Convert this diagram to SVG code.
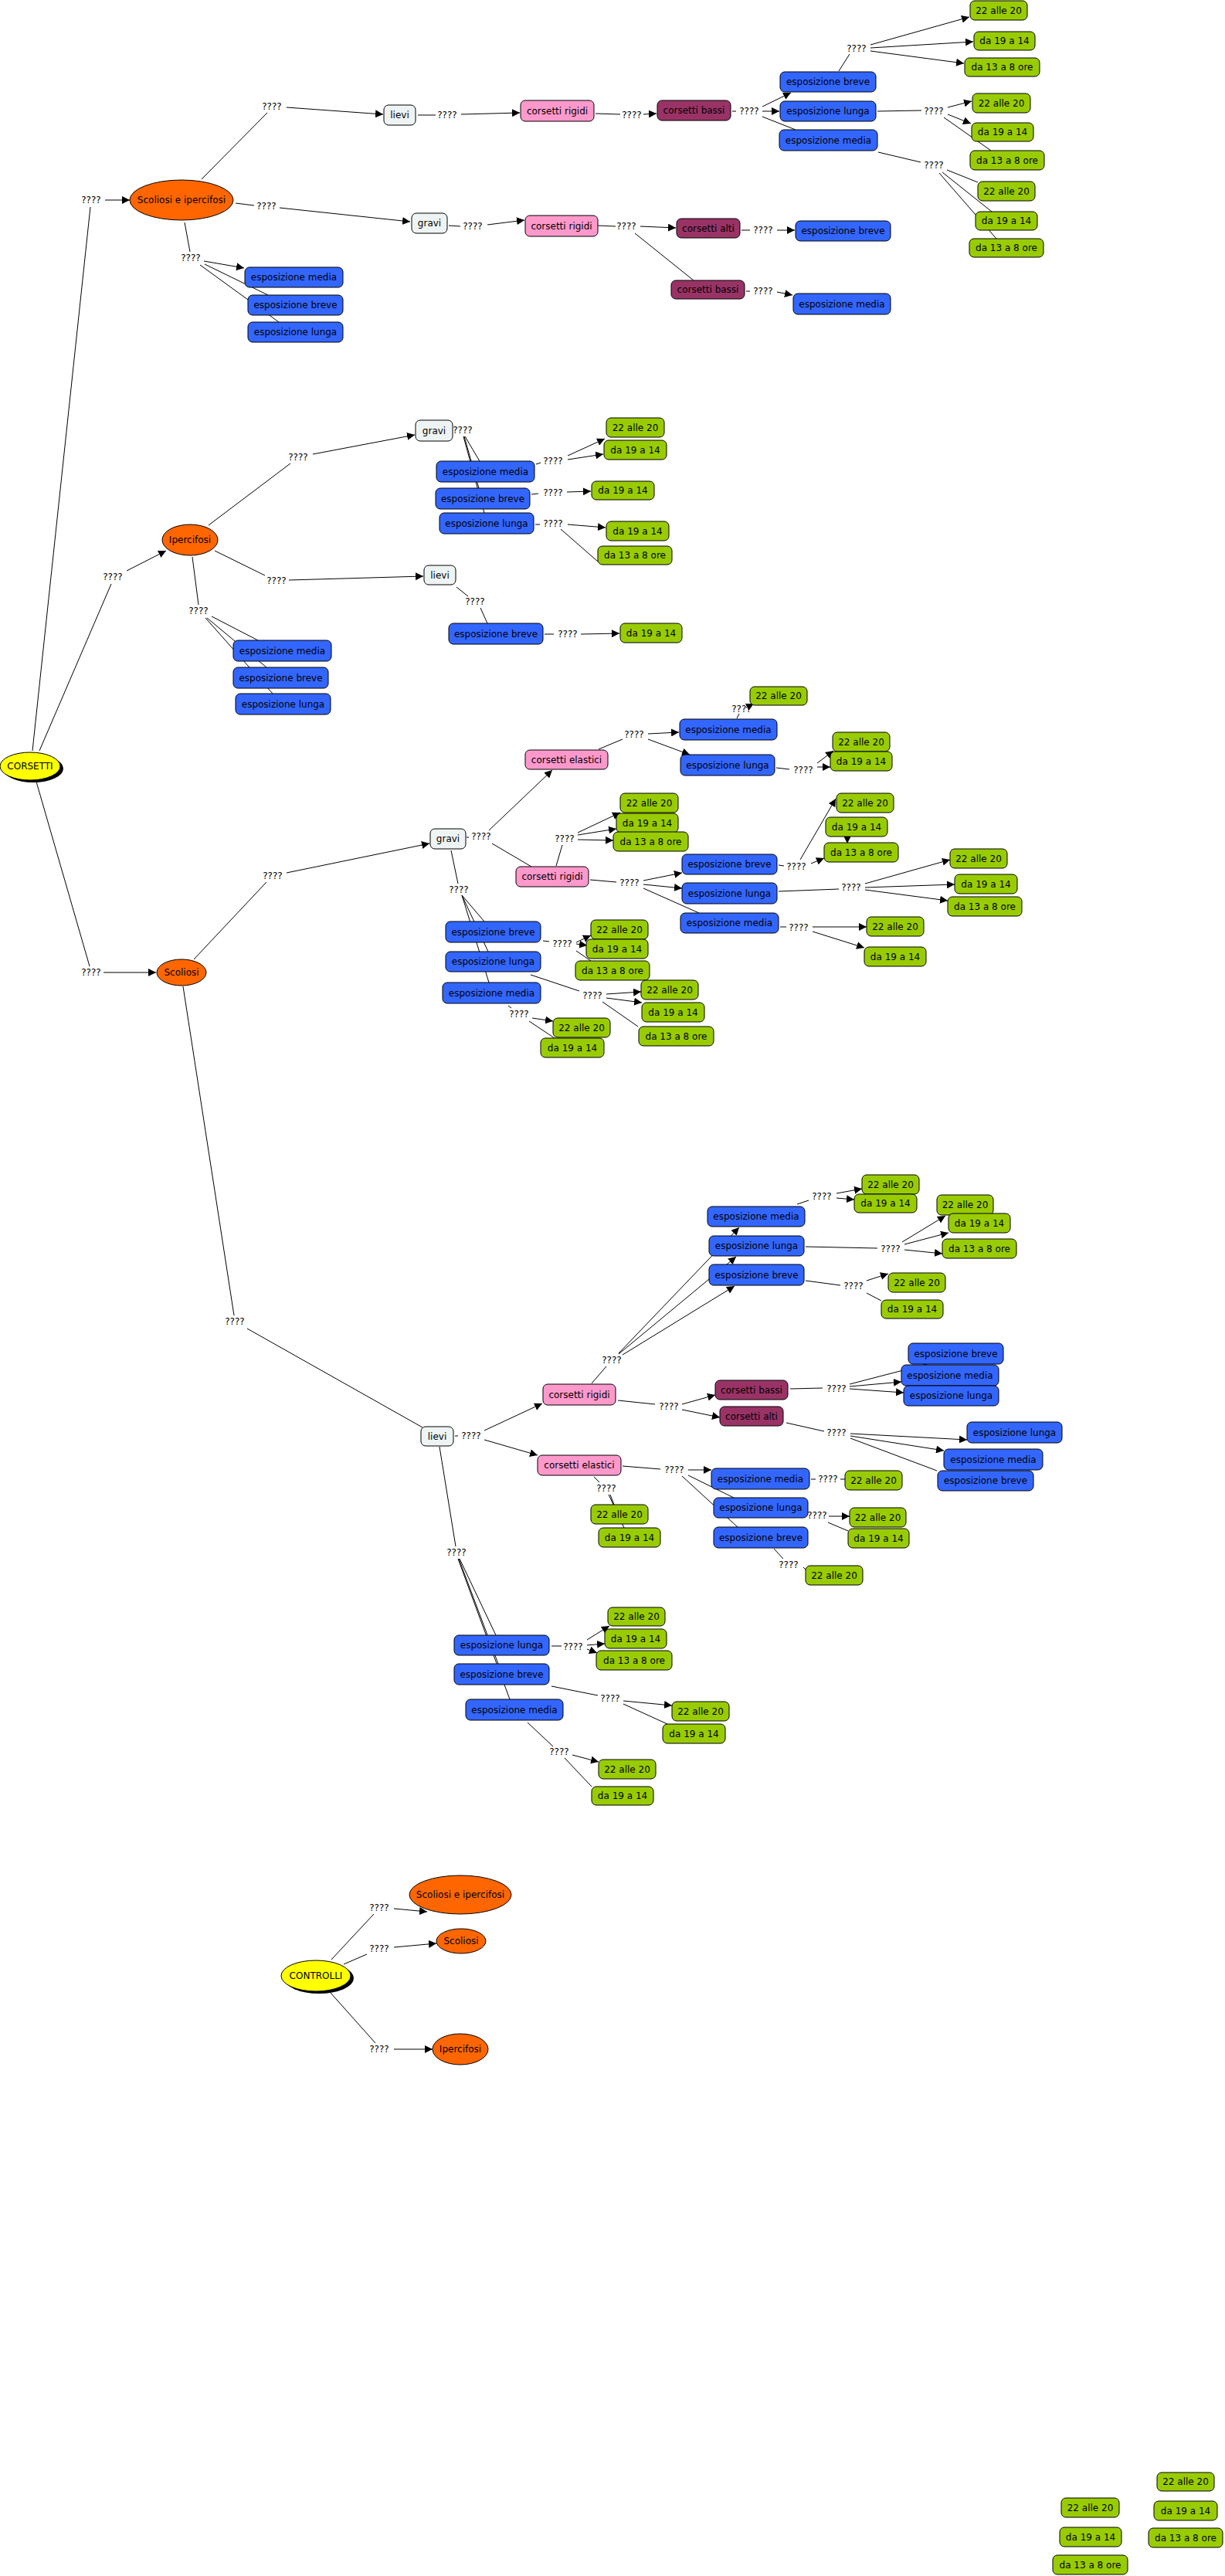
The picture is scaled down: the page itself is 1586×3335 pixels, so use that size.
<svg xmlns="http://www.w3.org/2000/svg" width="1586" height="3335" viewBox="0 0 1586 3335">
<defs>
<marker id="ah" markerWidth="10" markerHeight="10" refX="10" refY="5" orient="auto" markerUnits="userSpaceOnUse"><path d="M0,0 L10,5 L0,10 z" fill="#000"/></marker>
<style>
.c{stroke:#000;stroke-width:1;fill:none}
.a{stroke:#000;stroke-width:1;fill:none;marker-end:url(#ah)}
text{font-family:"DejaVu Sans",Verdana,sans-serif;font-size:12px;text-anchor:middle;fill:#000}
.n{stroke:#000;stroke-width:1}
.g{fill:#99cc00}.b{fill:#3366ff}.p{fill:#ff99cc}.m{fill:#993366}.w{fill:#eef4f4}.o{fill:#ff6600}.y{fill:#ffff00}
</style>
</defs>
<rect width="1586" height="3335" fill="#fff"/>
<g id="connectors">
<!-- CORSETTI -->
<line class="c" x1="42" y1="972" x2="117" y2="268"/><text x="118" y="263">????</text><line class="a" x1="136" y1="259" x2="168" y2="259"/>
<line class="c" x1="51" y1="972" x2="144" y2="756"/><text x="146" y="751">????</text><line class="a" x1="164" y1="739" x2="215" y2="713"/>
<line class="c" x1="47" y1="1012" x2="116" y2="1251"/><text x="118" y="1263">????</text><line class="a" x1="134" y1="1259" x2="202" y2="1259"/>
<!-- Scoliosi e ipercifosi -->
<line class="c" x1="261" y1="232" x2="346" y2="146"/><text x="352" y="142">????</text><line class="a" x1="371" y1="139" x2="496" y2="148"/>
<line class="c" x1="305" y1="263" x2="329" y2="266"/><text x="345" y="271">????</text><line class="a" x1="362" y1="269" x2="531" y2="287"/>
<line class="c" x1="239" y1="288" x2="246" y2="326"/><text x="247" y="338">????</text><line class="a" x1="264" y1="338" x2="316" y2="347"/>
<line class="c" x1="265" y1="342" x2="347" y2="382"/><line class="c" x1="259" y1="343" x2="361" y2="417"/>
<line class="c" x1="541" y1="149" x2="564" y2="149"/><text x="579" y="153">????</text><line class="a" x1="597" y1="148" x2="673" y2="146"/>
<line class="c" x1="771" y1="147" x2="803" y2="148"/><text x="818" y="153">????</text><line class="a" x1="833" y1="148" x2="850" y2="147"/>
<line class="c" x1="948" y1="144" x2="953" y2="144"/><text x="970" y="148">????</text>
<line class="a" x1="987" y1="138" x2="1024" y2="120"/><line class="a" x1="987" y1="144" x2="1009" y2="144"/><line class="c" x1="987" y1="151" x2="1030" y2="168"/>
<line class="c" x1="1086" y1="92" x2="1100" y2="70"/><text x="1109" y="67">????</text>
<line class="a" x1="1127" y1="58" x2="1255" y2="22"/><line class="a" x1="1127" y1="62" x2="1260" y2="54"/><line class="a" x1="1127" y1="66" x2="1248" y2="82"/>
<line class="c" x1="1136" y1="144" x2="1193" y2="143"/><text x="1209" y="148">????</text>
<line class="a" x1="1227" y1="139" x2="1258" y2="131"/><line class="a" x1="1227" y1="148" x2="1257" y2="160"/><line class="c" x1="1222" y1="152" x2="1283" y2="195"/>
<line class="c" x1="1137" y1="197" x2="1192" y2="210"/><text x="1209" y="218">????</text>
<line class="c" x1="1226" y1="220" x2="1266" y2="236"/><line class="c" x1="1220" y1="223" x2="1284" y2="274"/><line class="c" x1="1216" y1="224" x2="1290" y2="309"/>
<line class="c" x1="581" y1="292" x2="596" y2="293"/><text x="612" y="297">????</text><line class="a" x1="631" y1="291" x2="679" y2="285"/>
<line class="c" x1="774" y1="292" x2="797" y2="293"/><text x="811" y="297">????</text><line class="a" x1="829" y1="293" x2="875" y2="295"/>
<line class="c" x1="822" y1="302" x2="898" y2="363"/>
<line class="c" x1="960" y1="298" x2="971" y2="298"/><text x="988" y="302">????</text><line class="a" x1="1006" y1="298" x2="1029" y2="298"/>
<line class="c" x1="966" y1="377" x2="971" y2="377"/><text x="988" y="381">????</text><line class="a" x1="1006" y1="378" x2="1026" y2="382"/>
<!-- Ipercifosi -->
<line class="c" x1="270" y1="680" x2="376" y2="600"/><text x="386" y="596">????</text><line class="a" x1="405" y1="588" x2="537" y2="563"/>
<text x="599" y="561">????</text>
<line class="c" x1="602" y1="565" x2="621" y2="597"/><line class="c" x1="601" y1="565" x2="620" y2="632"/><line class="c" x1="600" y1="565" x2="627" y2="664"/>
<line class="c" x1="694" y1="601" x2="700" y2="599"/><text x="716" y="601">????</text>
<line class="a" x1="735" y1="590" x2="783" y2="568"/><line class="a" x1="735" y1="595" x2="781" y2="588"/>
<line class="c" x1="688" y1="640" x2="697" y2="639"/><text x="716" y="642">????</text><line class="a" x1="734" y1="637" x2="765" y2="636"/>
<line class="c" x1="693" y1="679" x2="699" y2="679"/><text x="716" y="682">????</text><line class="a" x1="735" y1="679" x2="784" y2="683"/>
<line class="c" x1="726" y1="685" x2="774" y2="727"/>
<line class="c" x1="278" y1="713" x2="343" y2="745"/><text x="358" y="756">????</text><line class="a" x1="374" y1="751" x2="548" y2="746"/>
<line class="c" x1="591" y1="760" x2="606" y2="772"/><text x="615" y="783">????</text><line class="c" x1="622" y1="787" x2="631" y2="807"/>
<line class="c" x1="705" y1="821" x2="717" y2="821"/><text x="735" y="825">????</text><line class="a" x1="752" y1="821" x2="802" y2="820"/>
<line class="c" x1="249" y1="721" x2="257" y2="783"/><text x="257" y="795">????</text>
<line class="c" x1="274" y1="798" x2="334" y2="829"/><line class="c" x1="268" y1="800" x2="345" y2="864"/><line class="c" x1="266" y1="800" x2="353" y2="898"/>
<!-- Scoliosi gravi -->
<line class="c" x1="251" y1="1242" x2="345" y2="1142"/><text x="353" y="1138">????</text><line class="a" x1="371" y1="1130" x2="556" y2="1092"/>
<line class="c" x1="604" y1="1084" x2="607" y2="1084"/><text x="623" y="1087">????</text>
<line class="a" x1="633" y1="1075" x2="715" y2="997"/><line class="c" x1="637" y1="1092" x2="688" y2="1122"/>
<line class="c" x1="775" y1="970" x2="806" y2="957"/><text x="821" y="955">????</text>
<line class="a" x1="839" y1="950" x2="879" y2="948"/><line class="a" x1="839" y1="957" x2="893" y2="977"/>
<line class="c" x1="954" y1="930" x2="957" y2="924"/><text x="960" y="922">????</text><line class="a" x1="966" y1="916" x2="976" y2="911"/>
<line class="c" x1="1005" y1="994" x2="1022" y2="996"/><text x="1040" y="1001">????</text>
<line class="a" x1="1058" y1="988" x2="1079" y2="972"/><line class="a" x1="1058" y1="993" x2="1075" y2="993"/>
<line class="c" x1="720" y1="1121" x2="728" y2="1094"/><text x="731" y="1090">????</text>
<line class="a" x1="748" y1="1078" x2="803" y2="1052"/><line class="a" x1="748" y1="1081" x2="798" y2="1073"/><line class="a" x1="748" y1="1087" x2="794" y2="1088"/>
<line class="c" x1="764" y1="1139" x2="798" y2="1142"/><text x="815" y="1147">????</text>
<line class="a" x1="833" y1="1140" x2="883" y2="1130"/><line class="a" x1="833" y1="1145" x2="883" y2="1150"/><line class="c" x1="833" y1="1150" x2="905" y2="1182"/>
<line class="c" x1="1008" y1="1120" x2="1015" y2="1121"/><text x="1031" y="1126">????</text>
<line class="a" x1="1036" y1="1113" x2="1082" y2="1034"/><line class="a" x1="1050" y1="1118" x2="1067" y2="1111"/><line class="a" x1="1097" y1="1082" x2="1097" y2="1092"/>
<line class="c" x1="1008" y1="1154" x2="1086" y2="1151"/><text x="1102" y="1153">????</text>
<line class="a" x1="1120" y1="1144" x2="1230" y2="1113"/><line class="a" x1="1120" y1="1149" x2="1236" y2="1145"/><line class="a" x1="1120" y1="1152" x2="1227" y2="1166"/>
<line class="c" x1="1010" y1="1200" x2="1018" y2="1200"/><text x="1034" y="1205">????</text>
<line class="a" x1="1052" y1="1200" x2="1122" y2="1200"/><line class="a" x1="1052" y1="1206" x2="1119" y2="1227"/>
<line class="c" x1="584" y1="1101" x2="593" y2="1144"/><text x="594" y="1156">????</text>
<line class="c" x1="598" y1="1159" x2="627" y2="1193"/><line class="c" x1="598" y1="1159" x2="632" y2="1232"/><line class="c" x1="598" y1="1159" x2="633" y2="1272"/>
<line class="c" x1="703" y1="1218" x2="711" y2="1219"/><text x="728" y="1226">????</text>
<line class="a" x1="746" y1="1220" x2="765" y2="1211"/><line class="a" x1="746" y1="1222" x2="760" y2="1224"/><line class="c" x1="746" y1="1231" x2="765" y2="1244"/>
<line class="c" x1="687" y1="1262" x2="750" y2="1283"/><text x="767" y="1293">????</text>
<line class="a" x1="785" y1="1287" x2="830" y2="1284"/><line class="a" x1="785" y1="1292" x2="831" y2="1298"/><line class="c" x1="780" y1="1297" x2="826" y2="1329"/>
<line class="c" x1="658" y1="1302" x2="662" y2="1305"/><text x="672" y="1317">????</text>
<line class="a" x1="689" y1="1318" x2="716" y2="1322"/><line class="c" x1="685" y1="1322" x2="718" y2="1344"/>
<!-- Scoliosi lievi -->
<line class="c" x1="237" y1="1277" x2="303" y2="1703"/><text x="304" y="1715">????</text><line class="c" x1="320" y1="1720" x2="547" y2="1848"/>
<line class="c" x1="589" y1="1859" x2="593" y2="1859"/><text x="610" y="1863">????</text>
<line class="a" x1="627" y1="1852" x2="702" y2="1817"/><line class="a" x1="627" y1="1864" x2="696" y2="1884"/>
<line class="c" x1="766" y1="1791" x2="785" y2="1769"/><text x="792" y="1765">????</text>
<line class="a" x1="801" y1="1752" x2="957" y2="1589"/><line class="a" x1="801" y1="1753" x2="953" y2="1627"/><line class="a" x1="806" y1="1754" x2="951" y2="1665"/>
<line class="c" x1="800" y1="1813" x2="848" y2="1818"/><text x="866" y="1825">????</text>
<line class="a" x1="883" y1="1818" x2="926" y2="1806"/><line class="a" x1="883" y1="1825" x2="932" y2="1835"/>
<line class="c" x1="1032" y1="1559" x2="1047" y2="1554"/><text x="1064" y="1553">????</text>
<line class="a" x1="1083" y1="1545" x2="1116" y2="1539"/><line class="a" x1="1083" y1="1551" x2="1106" y2="1553"/>
<line class="c" x1="1043" y1="1614" x2="1136" y2="1616"/><text x="1153" y="1621">????</text>
<line class="a" x1="1168" y1="1608" x2="1224" y2="1574"/><line class="a" x1="1171" y1="1611" x2="1228" y2="1596"/><line class="a" x1="1171" y1="1618" x2="1220" y2="1623"/>
<line class="c" x1="1043" y1="1658" x2="1088" y2="1664"/><text x="1105" y="1669">????</text>
<line class="a" x1="1122" y1="1658" x2="1150" y2="1649"/><line class="c" x1="1122" y1="1674" x2="1141" y2="1684"/>
<line class="c" x1="1023" y1="1798" x2="1065" y2="1797"/><text x="1083" y="1802">????</text>
<line class="c" x1="1100" y1="1792" x2="1200" y2="1766"/><line class="a" x1="1100" y1="1795" x2="1167" y2="1789"/><line class="a" x1="1100" y1="1798" x2="1170" y2="1803"/>
<line class="c" x1="1018" y1="1842" x2="1067" y2="1853"/><text x="1083" y="1859">????</text>
<line class="a" x1="1101" y1="1856" x2="1252" y2="1864"/><line class="a" x1="1101" y1="1859" x2="1222" y2="1878"/><line class="c" x1="1101" y1="1862" x2="1213" y2="1904"/>
<line class="c" x1="806" y1="1898" x2="855" y2="1902"/><text x="873" y="1907">????</text>
<line class="a" x1="891" y1="1903" x2="921" y2="1903"/><line class="c" x1="891" y1="1910" x2="950" y2="1939"/><line class="c" x1="883" y1="1911" x2="955" y2="1977"/>
<line class="c" x1="1050" y1="1915" x2="1056" y2="1915"/><text x="1072" y="1919">????</text><line class="c" x1="1088" y1="1915" x2="1094" y2="1915"/>
<text x="1058" y="1966">????</text>
<line class="a" x1="1073" y1="1963" x2="1100" y2="1963"/><line class="c" x1="1072" y1="1971" x2="1098" y2="1982"/>
<line class="c" x1="1002" y1="2005" x2="1014" y2="2018"/><text x="1021" y="2030">????</text><line class="c" x1="1040" y1="2029" x2="1043" y2="2032"/>
<line class="c" x1="769" y1="1912" x2="776" y2="1919"/><text x="785" y="1931">????</text>
<line class="c" x1="790" y1="1935" x2="795" y2="1948"/><line class="c" x1="788" y1="1935" x2="808" y2="1978"/>
<line class="c" x1="569" y1="1873" x2="590" y2="2002"/><text x="591" y="2014">????</text>
<line class="c" x1="595" y1="2018" x2="642" y2="2117"/><line class="c" x1="594" y1="2018" x2="645" y2="2154"/><line class="c" x1="593" y1="2018" x2="660" y2="2200"/>
<line class="c" x1="714" y1="2131" x2="727" y2="2131"/><text x="742" y="2136">????</text>
<line class="a" x1="760" y1="2123" x2="789" y2="2105"/><line class="a" x1="760" y1="2130" x2="783" y2="2128"/><line class="a" x1="760" y1="2135" x2="773" y2="2140"/>
<line class="c" x1="714" y1="2183" x2="774" y2="2195"/><text x="790" y="2203">????</text>
<line class="a" x1="807" y1="2202" x2="870" y2="2208"/><line class="c" x1="807" y1="2206" x2="864" y2="2232"/>
<line class="c" x1="683" y1="2230" x2="716" y2="2261"/><text x="724" y="2272">????</text>
<line class="a" x1="741" y1="2272" x2="775" y2="2281"/><line class="c" x1="731" y1="2276" x2="766" y2="2313"/>
<!-- CONTROLLI -->
<line class="c" x1="429" y1="2537" x2="484" y2="2478"/><text x="491" y="2474">????</text><line class="a" x1="510" y1="2471" x2="553" y2="2475"/>
<line class="c" x1="445" y1="2543" x2="475" y2="2530"/><text x="491" y="2527">????</text><line class="a" x1="510" y1="2521" x2="565" y2="2516"/>
<line class="c" x1="428" y1="2580" x2="486" y2="2645"/><text x="491" y="2657">????</text><line class="a" x1="510" y1="2653" x2="560" y2="2653"/>
</g>
<g id="n-corsetti"><ellipse cx="43" cy="995" rx="39" ry="18" fill="#000"/><ellipse class="n y" cx="39" cy="992" rx="39" ry="18"/><text x="39" y="996">CORSETTI</text></g>
<g id="n-sci1"><ellipse class="n o" cx="235" cy="259" rx="67" ry="26"/><text x="235" y="263">Scoliosi e ipercifosi</text></g>
<g id="a1"><rect class="n w" x="497" y="136" width="41" height="26" rx="6"/><text x="517.5" y="153">lievi</text></g>
<g id="a2"><rect class="n p" x="674" y="130" width="95" height="27" rx="6"/><text x="721.5" y="147.5">corsetti rigidi</text></g>
<g id="a3"><rect class="n m" x="851" y="130" width="95" height="26" rx="6"/><text x="898.5" y="147">corsetti bassi</text></g>
<g id="a4"><rect class="n b" x="1010" y="93" width="124" height="26" rx="6"/><text x="1072" y="110">esposizione breve</text></g>
<g id="a5"><rect class="n b" x="1010" y="131" width="124" height="26" rx="6"/><text x="1072" y="148">esposizione lunga</text></g>
<g id="a6"><rect class="n b" x="1009" y="168" width="127" height="27" rx="6"/><text x="1072.5" y="185.5">esposizione media</text></g>
<g id="a7"><rect class="n g" x="1256" y="1" width="74" height="25" rx="6"/><text x="1293" y="17.5">22 alle 20</text></g>
<g id="a8"><rect class="n g" x="1261" y="41" width="79" height="24" rx="6"/><text x="1300.5" y="57">da 19 a 14</text></g>
<g id="a9"><rect class="n g" x="1249" y="75" width="97" height="24" rx="6"/><text x="1297.5" y="91">da 13 a 8 ore</text></g>
<g id="a10"><rect class="n g" x="1259" y="121" width="75" height="25" rx="6"/><text x="1296.5" y="137.5">22 alle 20</text></g>
<g id="a11"><rect class="n g" x="1258" y="159" width="80" height="24" rx="6"/><text x="1298" y="175">da 19 a 14</text></g>
<g id="a12"><rect class="n g" x="1256" y="195" width="96" height="25" rx="6"/><text x="1304" y="211.5">da 13 a 8 ore</text></g>
<g id="a13"><rect class="n g" x="1266" y="235" width="74" height="25" rx="6"/><text x="1303" y="251.5">22 alle 20</text></g>
<g id="a14"><rect class="n g" x="1263" y="274" width="80" height="24" rx="6"/><text x="1303" y="290">da 19 a 14</text></g>
<g id="a15"><rect class="n g" x="1255" y="309" width="96" height="24" rx="6"/><text x="1303" y="325">da 13 a 8 ore</text></g>
<g id="a16"><rect class="n w" x="533" y="276" width="46" height="26" rx="6"/><text x="556" y="293">gravi</text></g>
<g id="a17"><rect class="n p" x="680" y="279" width="94" height="27" rx="6"/><text x="727" y="296.5">corsetti rigidi</text></g>
<g id="a18"><rect class="n m" x="876" y="283" width="82" height="25" rx="6"/><text x="917" y="299.5">corsetti alti</text></g>
<g id="a19"><rect class="n b" x="1030" y="286" width="123" height="26" rx="6"/><text x="1091.5" y="303">esposizione breve</text></g>
<g id="a20"><rect class="n m" x="869" y="363" width="95" height="24" rx="6"/><text x="916.5" y="379">corsetti bassi</text></g>
<g id="a21"><rect class="n b" x="1027" y="380" width="126" height="27" rx="6"/><text x="1090" y="397.5">esposizione media</text></g>
<g id="a22"><rect class="n b" x="317" y="346" width="127" height="26" rx="6"/><text x="380.5" y="363">esposizione media</text></g>
<g id="a23"><rect class="n b" x="321" y="382" width="123" height="26" rx="6"/><text x="382.5" y="399">esposizione breve</text></g>
<g id="a24"><rect class="n b" x="321" y="417" width="123" height="26" rx="6"/><text x="382.5" y="434">esposizione lunga</text></g>
<g id="n-iper1"><ellipse class="n o" cx="246" cy="699" rx="36" ry="20"/><text x="246" y="703">Ipercifosi</text></g>
<g id="b1"><rect class="n w" x="538" y="544" width="48" height="27" rx="6"/><text x="562" y="561.5">gravi</text></g>
<g id="b2"><rect class="n b" x="565" y="597" width="127" height="27" rx="6"/><text x="628.5" y="614.5">esposizione media</text></g>
<g id="b3"><rect class="n b" x="564" y="632" width="122" height="27" rx="6"/><text x="625" y="649.5">esposizione breve</text></g>
<g id="b4"><rect class="n b" x="569" y="664" width="122" height="27" rx="6"/><text x="630" y="681.5">esposizione lunga</text></g>
<g id="b5"><rect class="n g" x="785" y="541" width="75" height="25" rx="6"/><text x="822.5" y="557.5">22 alle 20</text></g>
<g id="b6"><rect class="n g" x="782" y="570" width="81" height="25" rx="6"/><text x="822.5" y="586.5">da 19 a 14</text></g>
<g id="b7"><rect class="n g" x="766" y="623" width="81" height="24" rx="6"/><text x="806.5" y="639">da 19 a 14</text></g>
<g id="b8"><rect class="n g" x="785" y="675" width="81" height="25" rx="6"/><text x="825.5" y="691.5">da 19 a 14</text></g>
<g id="b9"><rect class="n g" x="774" y="707" width="96" height="24" rx="6"/><text x="822" y="723">da 13 a 8 ore</text></g>
<g id="b10"><rect class="n w" x="549" y="732" width="41" height="25" rx="6"/><text x="569.5" y="748.5">lievi</text></g>
<g id="b11"><rect class="n b" x="581" y="807" width="122" height="27" rx="6"/><text x="642" y="824.5">esposizione breve</text></g>
<g id="b12"><rect class="n g" x="803" y="807" width="80" height="25" rx="6"/><text x="843" y="823.5">da 19 a 14</text></g>
<g id="b13"><rect class="n b" x="302" y="829" width="127" height="27" rx="6"/><text x="365.5" y="846.5">esposizione media</text></g>
<g id="b14"><rect class="n b" x="302" y="864" width="123" height="27" rx="6"/><text x="363.5" y="881.5">esposizione breve</text></g>
<g id="b15"><rect class="n b" x="305" y="898" width="123" height="27" rx="6"/><text x="366.5" y="915.5">esposizione lunga</text></g>
<g id="n-scol1"><ellipse class="n o" cx="235" cy="1259" rx="32" ry="17"/><text x="235" y="1263">Scoliosi</text></g>
<g id="c1"><rect class="n w" x="557" y="1073" width="46" height="26" rx="6"/><text x="580" y="1090">gravi</text></g>
<g id="c2"><rect class="n p" x="680" y="971" width="107" height="25" rx="6"/><text x="733.5" y="987.5">corsetti elastici</text></g>
<g id="c3"><rect class="n b" x="880" y="931" width="126" height="27" rx="6"/><text x="943" y="948.5">esposizione media</text></g>
<g id="c4"><rect class="n b" x="881" y="977" width="122" height="27" rx="6"/><text x="942" y="994.5">esposizione lunga</text></g>
<g id="c5"><rect class="n g" x="971" y="889" width="74" height="24" rx="6"/><text x="1008" y="905">22 alle 20</text></g>
<g id="c6"><rect class="n g" x="1078" y="948" width="74" height="25" rx="6"/><text x="1115" y="964.5">22 alle 20</text></g>
<g id="c7"><rect class="n g" x="1075" y="973" width="80" height="25" rx="6"/><text x="1115" y="989.5">da 19 a 14</text></g>
<g id="c8"><rect class="n p" x="668" y="1122" width="94" height="26" rx="6"/><text x="715" y="1139">corsetti rigidi</text></g>
<g id="c9"><rect class="n g" x="803" y="1027" width="75" height="25" rx="6"/><text x="840.5" y="1043.5">22 alle 20</text></g>
<g id="c10"><rect class="n g" x="798" y="1053" width="80" height="25" rx="6"/><text x="838" y="1069.5">da 19 a 14</text></g>
<g id="c11"><rect class="n g" x="794" y="1077" width="97" height="25" rx="6"/><text x="842.5" y="1093.5">da 13 a 8 ore</text></g>
<g id="c12"><rect class="n b" x="883" y="1106" width="123" height="26" rx="6"/><text x="944.5" y="1123">esposizione breve</text></g>
<g id="c13"><rect class="n b" x="883" y="1143" width="123" height="27" rx="6"/><text x="944.5" y="1160.5">esposizione lunga</text></g>
<g id="c14"><rect class="n b" x="881" y="1182" width="127" height="26" rx="6"/><text x="944.5" y="1199">esposizione media</text></g>
<g id="c15"><rect class="n g" x="1083" y="1027" width="74" height="25" rx="6"/><text x="1120" y="1043.5">22 alle 20</text></g>
<g id="c16"><rect class="n g" x="1069" y="1058" width="80" height="25" rx="6"/><text x="1109" y="1074.5">da 19 a 14</text></g>
<g id="c17"><rect class="n g" x="1067" y="1091" width="96" height="25" rx="6"/><text x="1115" y="1107.5">da 13 a 8 ore</text></g>
<g id="c18"><rect class="n g" x="1230" y="1099" width="74" height="25" rx="6"/><text x="1267" y="1115.5">22 alle 20</text></g>
<g id="c19"><rect class="n g" x="1236" y="1132" width="81" height="25" rx="6"/><text x="1276.5" y="1148.5">da 19 a 14</text></g>
<g id="c20"><rect class="n g" x="1227" y="1161" width="96" height="25" rx="6"/><text x="1275" y="1177.5">da 13 a 8 ore</text></g>
<g id="c21"><rect class="n g" x="1122" y="1187" width="74" height="25" rx="6"/><text x="1159" y="1203.5">22 alle 20</text></g>
<g id="c22"><rect class="n g" x="1119" y="1226" width="80" height="25" rx="6"/><text x="1159" y="1242.5">da 19 a 14</text></g>
<g id="c23"><rect class="n b" x="577" y="1193" width="123" height="27" rx="6"/><text x="638.5" y="1210.5">esposizione breve</text></g>
<g id="c24"><rect class="n b" x="577" y="1232" width="123" height="26" rx="6"/><text x="638.5" y="1249">esposizione lunga</text></g>
<g id="c25"><rect class="n b" x="573" y="1272" width="127" height="27" rx="6"/><text x="636.5" y="1289.5">esposizione media</text></g>
<g id="c26"><rect class="n g" x="765" y="1191" width="74" height="25" rx="6"/><text x="802" y="1207.5">22 alle 20</text></g>
<g id="c27"><rect class="n g" x="759" y="1216" width="80" height="25" rx="6"/><text x="799" y="1232.5">da 19 a 14</text></g>
<g id="c28"><rect class="n g" x="745" y="1244" width="96" height="25" rx="6"/><text x="793" y="1260.5">da 13 a 8 ore</text></g>
<g id="c29"><rect class="n g" x="830" y="1269" width="74" height="25" rx="6"/><text x="867" y="1285.5">22 alle 20</text></g>
<g id="c30"><rect class="n g" x="831" y="1298" width="81" height="25" rx="6"/><text x="871.5" y="1314.5">da 19 a 14</text></g>
<g id="c31"><rect class="n g" x="827" y="1329" width="97" height="25" rx="6"/><text x="875.5" y="1345.5">da 13 a 8 ore</text></g>
<g id="c32"><rect class="n g" x="716" y="1318" width="74" height="25" rx="6"/><text x="753" y="1334.5">22 alle 20</text></g>
<g id="c33"><rect class="n g" x="700" y="1344" width="82" height="25" rx="6"/><text x="741" y="1360.5">da 19 a 14</text></g>
<g id="d1"><rect class="n w" x="545" y="1847" width="42" height="25" rx="6"/><text x="566" y="1863.5">lievi</text></g>
<g id="d2"><rect class="n p" x="703" y="1792" width="94" height="27" rx="6"/><text x="750" y="1809.5">corsetti rigidi</text></g>
<g id="d3"><rect class="n p" x="696" y="1884" width="108" height="26" rx="6"/><text x="750" y="1901">corsetti elastici</text></g>
<g id="d4"><rect class="n b" x="916" y="1562" width="126" height="26" rx="6"/><text x="979" y="1579">esposizione media</text></g>
<g id="d5"><rect class="n b" x="918" y="1600" width="123" height="26" rx="6"/><text x="979.5" y="1617">esposizione lunga</text></g>
<g id="d6"><rect class="n b" x="918" y="1637" width="123" height="27" rx="6"/><text x="979.5" y="1654.5">esposizione breve</text></g>
<g id="d7"><rect class="n g" x="1116" y="1521" width="74" height="25" rx="6"/><text x="1153" y="1537.5">22 alle 20</text></g>
<g id="d8"><rect class="n g" x="1106" y="1546" width="81" height="24" rx="6"/><text x="1146.5" y="1562">da 19 a 14</text></g>
<g id="d9"><rect class="n g" x="1213" y="1547" width="73" height="26" rx="6"/><text x="1249.5" y="1564">22 alle 20</text></g>
<g id="d10"><rect class="n g" x="1228" y="1571" width="80" height="25" rx="6"/><text x="1268" y="1587.5">da 19 a 14</text></g>
<g id="d11"><rect class="n g" x="1220" y="1604" width="96" height="25" rx="6"/><text x="1268" y="1620.5">da 13 a 8 ore</text></g>
<g id="d12"><rect class="n g" x="1150" y="1648" width="74" height="25" rx="6"/><text x="1187" y="1664.5">22 alle 20</text></g>
<g id="d13"><rect class="n g" x="1141" y="1683" width="80" height="24" rx="6"/><text x="1181" y="1699">da 19 a 14</text></g>
<g id="d14"><rect class="n m" x="926" y="1787" width="94" height="25" rx="6"/><text x="973" y="1803.5">corsetti bassi</text></g>
<g id="d15"><rect class="n m" x="932" y="1821" width="82" height="25" rx="6"/><text x="973" y="1837.5">corsetti alti</text></g>
<g id="d16"><rect class="n b" x="1176" y="1739" width="123" height="27" rx="6"/><text x="1237.5" y="1756.5">esposizione breve</text></g>
<g id="d17"><rect class="n b" x="1167" y="1767" width="126" height="27" rx="6"/><text x="1230" y="1784.5">esposizione media</text></g>
<g id="d18"><rect class="n b" x="1170" y="1794" width="123" height="26" rx="6"/><text x="1231.5" y="1811">esposizione lunga</text></g>
<g id="d19"><rect class="n b" x="1252" y="1841" width="123" height="27" rx="6"/><text x="1313.5" y="1858.5">esposizione lunga</text></g>
<g id="d20"><rect class="n b" x="1222" y="1876" width="128" height="27" rx="6"/><text x="1286" y="1893.5">esposizione media</text></g>
<g id="d21"><rect class="n b" x="1214" y="1904" width="124" height="26" rx="6"/><text x="1276" y="1921">esposizione breve</text></g>
<g id="d22"><rect class="n b" x="921" y="1901" width="127" height="27" rx="6"/><text x="984.5" y="1918.5">esposizione media</text></g>
<g id="d23"><rect class="n b" x="924" y="1939" width="122" height="26" rx="6"/><text x="985" y="1956">esposizione lunga</text></g>
<g id="d24"><rect class="n b" x="924" y="1977" width="122" height="27" rx="6"/><text x="985" y="1994.5">esposizione breve</text></g>
<g id="d25"><rect class="n g" x="1094" y="1904" width="74" height="25" rx="6"/><text x="1131" y="1920.5">22 alle 20</text></g>
<g id="d26"><rect class="n g" x="1100" y="1952" width="73" height="25" rx="6"/><text x="1136.5" y="1968.5">22 alle 20</text></g>
<g id="d27"><rect class="n g" x="1098" y="1979" width="79" height="25" rx="6"/><text x="1137.5" y="1995.5">da 19 a 14</text></g>
<g id="d28"><rect class="n g" x="1043" y="2027" width="74" height="25" rx="6"/><text x="1080" y="2043.5">22 alle 20</text></g>
<g id="d29"><rect class="n g" x="765" y="1948" width="74" height="25" rx="6"/><text x="802" y="1964.5">22 alle 20</text></g>
<g id="d30"><rect class="n g" x="775" y="1978" width="80" height="25" rx="6"/><text x="815" y="1994.5">da 19 a 14</text></g>
<g id="d31"><rect class="n b" x="588" y="2117" width="123" height="26" rx="6"/><text x="649.5" y="2134">esposizione lunga</text></g>
<g id="d32"><rect class="n b" x="588" y="2154" width="123" height="27" rx="6"/><text x="649.5" y="2171.5">esposizione breve</text></g>
<g id="d33"><rect class="n b" x="603" y="2200" width="126" height="27" rx="6"/><text x="666" y="2217.5">esposizione media</text></g>
<g id="d34"><rect class="n g" x="787" y="2081" width="74" height="24" rx="6"/><text x="824" y="2097">22 alle 20</text></g>
<g id="d35"><rect class="n g" x="783" y="2109" width="80" height="25" rx="6"/><text x="823" y="2125.5">da 19 a 14</text></g>
<g id="d36"><rect class="n g" x="772" y="2137" width="98" height="25" rx="6"/><text x="821" y="2153.5">da 13 a 8 ore</text></g>
<g id="d37"><rect class="n g" x="870" y="2203" width="74" height="25" rx="6"/><text x="907" y="2219.5">22 alle 20</text></g>
<g id="d38"><rect class="n g" x="858" y="2232" width="81" height="25" rx="6"/><text x="898.5" y="2248.5">da 19 a 14</text></g>
<g id="d39"><rect class="n g" x="775" y="2278" width="74" height="25" rx="6"/><text x="812" y="2294.5">22 alle 20</text></g>
<g id="d40"><rect class="n g" x="766" y="2313" width="80" height="24" rx="6"/><text x="806" y="2329">da 19 a 14</text></g>
<g id="n-controlli"><ellipse cx="413" cy="2561" rx="45" ry="20" fill="#000"/><ellipse class="n y" cx="409" cy="2558" rx="45" ry="20"/><text x="409" y="2562">CONTROLLI</text></g>
<g id="e1"><ellipse class="n o" cx="596" cy="2453" rx="66" ry="25"/><text x="596" y="2457">Scoliosi e ipercifosi</text></g>
<g id="e2"><ellipse class="n o" cx="597" cy="2513" rx="32" ry="16"/><text x="597" y="2517">Scoliosi</text></g>
<g id="e3"><ellipse class="n o" cx="596" cy="2653" rx="36" ry="20"/><text x="596" y="2657">Ipercifosi</text></g>
<g id="f1"><rect class="n g" x="1498" y="3201" width="74" height="24" rx="6"/><text x="1535" y="3217">22 alle 20</text></g>
<g id="f2"><rect class="n g" x="1494" y="3238" width="82" height="25" rx="6"/><text x="1535" y="3254.5">da 19 a 14</text></g>
<g id="f3"><rect class="n g" x="1487" y="3273" width="96" height="25" rx="6"/><text x="1535" y="3289.5">da 13 a 8 ore</text></g>
<g id="f4"><rect class="n g" x="1374" y="3234" width="75" height="25" rx="6"/><text x="1411.5" y="3250.5">22 alle 20</text></g>
<g id="f5"><rect class="n g" x="1372" y="3272" width="80" height="25" rx="6"/><text x="1412" y="3288.5">da 19 a 14</text></g>
<g id="f6"><rect class="n g" x="1363" y="3308" width="97" height="25" rx="6"/><text x="1411.5" y="3324.5">da 13 a 8 ore</text></g>
</svg>
